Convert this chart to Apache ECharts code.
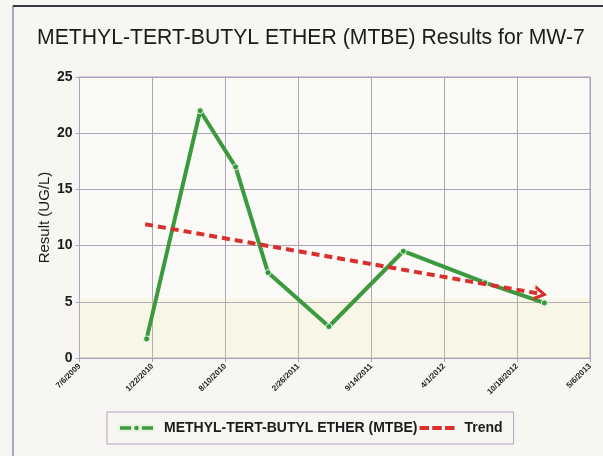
<!DOCTYPE html>
<html>
<head>
<meta charset="utf-8">
<script src="https://cdn.jsdelivr.net/npm/echarts@6/dist/echarts.min.js"></script>
<style>
  html, body { margin: 0; padding: 0; background: #f7f6f2; }
  #chart { width: 603px; height: 456px; }
</style>
</head>
<body>
<div id="chart"></div>
<script>
// x axis: days counted from the first tick date
var startDate = '2009-07-06'
var tickLabels = ['7/6/2009', '1/22/2010', '8/10/2010', '2/26/2011', '9/14/2011', '4/1/2012', '10/18/2012', '5/6/2013']

// MTBE results
var sampleDates = ['2010-01-06', '2010-06-02', '2010-09-07', '2010-12-05', '2011-05-21', '2011-12-11', '2012-07-22', '2013-01-01']
var sampleValues = [1.7, 22.0, 17.0, 7.6, 2.8, 9.5, 6.7, 4.9]

// trend line (start, end)
var trendDates = ['2010-01-02', '2012-12-22']
var trendValues = [11.9, 5.7]

var dayOf = function(s) {
    var a = s.split('-'), b = startDate.split('-')
    var t = Date.UTC(+a[0], a[1] - 1, +a[2])
    var t0 = Date.UTC(+b[0], b[1] - 1, +b[2])
    return Math.round((t - t0) / 86400000)
}

var mtbe = []
for (var i = 0; i < sampleDates.length; i++) {
    mtbe.push([dayOf(sampleDates[i]), sampleValues[i]])
}
var trend = [[dayOf(trendDates[0]), trendValues[0]], [dayOf(trendDates[1]), trendValues[1]]]

var gridColor = '#aaa3bd'
var green = '#3b9a3d'
var red = '#d8302c'
// open arrow head, pointing up (markLine rotates it along the line)
var chevron = 'path://M0,10 L6,0 L12,10 L9,10 L6,4.5 L3,10 Z'
var greenIcon = 'path://M0,1.5 H12 V6.5 H0 Z M20,1.5 H32 V6.5 H20 Z M16,1 A3,3 0 1,0 16.01,1 Z'
var redIcon = 'path://M0,1.5 H9 V5.5 H0 Z M12,1.5 H21 V5.5 H12 Z M24,1.5 H33 V5.5 H24 Z'

var option = {
    backgroundColor: '#f7f6f2',
    textStyle: { fontFamily: 'Liberation Sans, Arial, sans-serif' },
    title: {
        text: 'METHYL-TERT-BUTYL ETHER (MTBE) Results for MW-7',
        left: 32,
        top: 23,
        textStyle: { fontSize: 21.2, fontWeight: 'normal', color: '#1b1b1b' }
    },
    graphic: [{
        type: 'rect',
        shape: { x: 13, y: 6, width: 600, height: 460 },
        style: { fill: 'none', stroke: '#8a8ea6', lineWidth: 1.5 },
        silent: true
    }, {
        type: 'line',
        shape: { x1: 13, y1: 6, x2: 603, y2: 6 },
        style: { stroke: '#3a3a40', lineWidth: 2 },
        silent: true
    }],
    legend: {
        bottom: 12,
        left: 107,
        padding: [9, 11, 9, 11],
        borderColor: '#a8a0bc',
        borderWidth: 1,
        itemGap: 2,
        itemWidth: 35,
        itemHeight: 8,
        textStyle: { fontSize: 14, fontWeight: 'bold', color: '#1b1b1b', padding: [0, 0, 0, 5] },
        data: [
            { name: 'METHYL-TERT-BUTYL ETHER (MTBE)', icon: greenIcon, itemStyle: { color: green } },
            { name: 'Trend', icon: redIcon, itemStyle: { color: red } }
        ]
    },
    grid: {
        left: 79.5,
        right: 13,
        top: 77,
        bottom: 98,
        show: true,
        borderColor: gridColor,
        borderWidth: 1,
        backgroundColor: '#fbfaf7'
    },
    xAxis: {
        type: 'value',
        min: 0,
        max: 1400,
        interval: 200,
        axisLine: { show: true, lineStyle: { color: gridColor } },
        axisTick: { show: true, length: 4, lineStyle: { color: gridColor } },
        splitLine: { show: true, lineStyle: { color: gridColor, width: 1 } },
        axisLabel: {
            rotate: 45,
            margin: 7,
            fontSize: 8,
            fontWeight: 'bold',
            color: '#222',
            formatter: function(v) {
                return tickLabels[Math.round(v / 200)] || ''
            }
        }
    },
    yAxis: {
        type: 'value',
        min: 0,
        max: 25,
        interval: 5,
        name: 'Result (UG/L)',
        nameLocation: 'middle',
        nameGap: 27,
        nameMoveOverlap: false,
        nameTextStyle: { fontSize: 15, color: '#1b1b1b' },
        axisLine: { show: true, lineStyle: { color: gridColor } },
        axisTick: { show: true, length: 4, lineStyle: { color: gridColor } },
        splitLine: { show: true, lineStyle: { color: gridColor, width: 1 } },
        axisLabel: { fontSize: 14, fontWeight: 'bold', color: '#1b1b1b', margin: 7 }
    },
    series: [{
        name: 'METHYL-TERT-BUTYL ETHER (MTBE)',
        type: 'line',
        data: mtbe,
        symbol: 'circle',
        symbolSize: 6,
        showAllSymbol: true,
        itemStyle: { color: '#2f9a3a', borderColor: '#e8f4e0', borderWidth: 1 },
        lineStyle: { color: green, width: 4 },
        z: 3,
        markArea: {
            silent: true,
            itemStyle: { color: 'rgba(238, 228, 150, 0.18)' },
            data: [[{ yAxis: 0 }, { yAxis: 5.3 }]]
        }
    }, {
        name: 'Trend',
        type: 'line',
        data: [],
        symbol: 'none',
        itemStyle: { color: red },
        lineStyle: { color: red, width: 4, type: [8, 5] },
        z: 4,
        markLine: {
            silent: true,
            symbol: ['none', chevron],
            symbolSize: [16, 13],
            label: { show: false },
            lineStyle: { color: red, width: 4, type: [8, 5] },
            data: [[{ coord: trend[0] }, { coord: trend[1] }]]
        }
    }]
}

echarts.init(document.getElementById('chart')).setOption(option)
</script>
</body>
</html>
